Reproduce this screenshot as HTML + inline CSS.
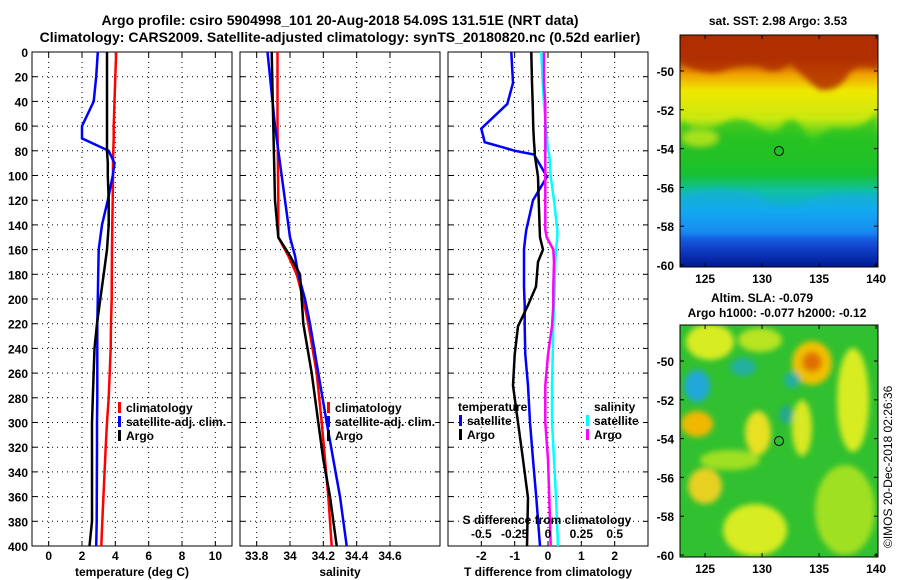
<!DOCTYPE html>
<html><head><meta charset="utf-8"><style>
body{margin:0;background:#fff;}
svg{display:block;font-family:"Liberation Sans",Arial,sans-serif;font-weight:bold;}
</style></head><body>
<svg id="c" width="900" height="580" viewBox="0 0 900 580" xmlns="http://www.w3.org/2000/svg">
<defs>
<linearGradient id="sstg" x1="0" y1="0" x2="0" y2="1">
<stop offset="0" stop-color="#a82800"/><stop offset="0.1" stop-color="#b03400"/>
<stop offset="0.17" stop-color="#f0a000"/><stop offset="0.24" stop-color="#f0e800"/>
<stop offset="0.36" stop-color="#c8e810"/><stop offset="0.45" stop-color="#30c820"/>
<stop offset="0.6" stop-color="#18c030"/><stop offset="0.67" stop-color="#10c0a0"/>
<stop offset="0.76" stop-color="#10a8f0"/><stop offset="0.85" stop-color="#1870f0"/>
<stop offset="0.92" stop-color="#1040c8"/><stop offset="1" stop-color="#001890"/>
</linearGradient>
<filter id="bl" x="-50%" y="-50%" width="200%" height="200%"><feGaussianBlur stdDeviation="3"/></filter>
<filter id="bl2" x="-50%" y="-50%" width="200%" height="200%"><feGaussianBlur stdDeviation="3"/></filter>
<clipPath id="cm1"><rect x="680" y="35" width="198" height="232"/></clipPath>
<clipPath id="cm2"><rect x="680" y="325" width="198" height="232"/></clipPath>
</defs>
<text x="340" y="25" font-size="14" text-anchor="middle">Argo profile: csiro 5904998_101 20-Aug-2018 54.09S 131.51E (NRT data)</text>
<text x="340" y="42" font-size="14" text-anchor="middle">Climatology: CARS2009. Satellite-adjusted climatology: synTS_20180820.nc (0.52d earlier)</text>

<g>
<rect x="680" y="35" width="198" height="232" fill="url(#sstg)"/>
<g clip-path="url(#cm1)" filter="url(#bl2)">
<path d="M680 62 Q700 75 720 72 Q740 62 760 66 Q775 78 790 62 Q805 80 820 90 Q840 92 850 72 Q860 62 878 70 L878 35 L680 35Z" fill="#b03000" opacity="0.85"/>
<path d="M680 120 Q700 135 720 125 Q740 112 760 128 Q775 140 785 122 Q800 112 812 150 Q825 125 840 128 Q860 132 878 112 L878 160 L680 160Z" fill="#20c020" opacity="0.75"/>
<ellipse cx="700" cy="138" rx="18" ry="8" fill="#c8e820" opacity="0.8"/>
<path d="M680 195 Q720 182 760 195 Q780 222 800 205 Q830 188 878 195 L878 235 L680 235Z" fill="#10a8f0" opacity="0.5"/>
</g>
<rect x="680" y="35" width="198" height="232" fill="none" stroke="#000"/>
<circle cx="779" cy="151" r="4.5" fill="none" stroke="#000"/>
</g>
<text x="778" y="25" font-size="12" text-anchor="middle">sat. SST: 2.98 Argo: 3.53</text>

<g>
<rect x="680" y="325" width="198" height="232" fill="#30c030"/>
<g clip-path="url(#cm2)" filter="url(#bl)">
<ellipse cx="710" cy="342" rx="24" ry="18" fill="#d8ec20"/>
<ellipse cx="760" cy="340" rx="22" ry="12" fill="#b8e420"/>
<ellipse cx="812" cy="363" rx="20" ry="22" fill="#f0c000"/>
<ellipse cx="812" cy="362" rx="10" ry="10" fill="#e07000"/>
<ellipse cx="853" cy="400" rx="16" ry="52" fill="#d8ec20"/>
<ellipse cx="697" cy="386" rx="13" ry="16" fill="#20a8d8"/>
<ellipse cx="697" cy="424" rx="16" ry="13" fill="#f0b800"/>
<ellipse cx="758" cy="433" rx="13" ry="22" fill="#e8e020"/>
<ellipse cx="802" cy="428" rx="10" ry="28" fill="#d8e820"/>
<ellipse cx="705" cy="486" rx="17" ry="18" fill="#e8d020"/>
<ellipse cx="755" cy="530" rx="32" ry="26" fill="#d8ec20"/>
<ellipse cx="845" cy="510" rx="30" ry="45" fill="#a0e020"/>
<ellipse cx="743" cy="367" rx="13" ry="9" fill="#20b0a0"/>
<ellipse cx="792" cy="380" rx="8" ry="8" fill="#20b0a0"/>
<ellipse cx="786" cy="415" rx="7" ry="9" fill="#20a890"/>
<ellipse cx="730" cy="460" rx="30" ry="10" fill="#a0e020"/>
</g>
<rect x="680" y="325" width="198" height="232" fill="none" stroke="#000"/>
<circle cx="779" cy="441" r="4.5" fill="none" stroke="#000"/>
</g>
<text x="762" y="302" font-size="12" text-anchor="middle">Altim. SLA: -0.079</text>
<text x="777" y="317" font-size="12" text-anchor="middle">Argo h1000: -0.077 h2000: -0.12</text>
<text transform="translate(892,548) rotate(-90)" font-size="12" font-weight="normal">©IMOS 20-Dec-2018 02:26:36</text>
<g id="mapticks"></g>
<g id="plots"></g>
</svg>
<script>
// ---- data (depth in dbar) ----
const tDepth = [0,20,40,60,70,80,90,100,120,140,160,180,200,220,240,280,300,320,380,400];
const tClim  = [4.05,4.0,3.95,3.9,3.9,3.88,3.86,3.86,3.84,3.82,3.8,3.79,3.78,3.74,3.72,3.6,3.5,3.42,3.22,3.16];
const tSat   = [2.95,2.85,2.7,2.0,2.0,3.6,3.95,3.85,3.55,3.2,3.0,2.97,2.95,2.92,2.92,2.92,2.9,2.9,2.88,2.85];
const tArgo  = [3.5,3.5,3.5,3.5,3.5,3.5,3.55,3.55,3.6,3.6,3.5,3.3,3.1,2.9,2.75,2.65,2.6,2.6,2.6,2.45];
const sDepth = [0,60,120,150,165,180,200,220,260,300,330,360,400];
const sClim  = [33.925,33.925,33.93,33.93,33.99,34.04,34.08,34.11,34.16,34.19,34.21,34.23,34.25];
const sSat   = [33.865,33.91,33.97,34.0,34.03,34.05,34.09,34.12,34.17,34.22,34.26,34.3,34.34];
const sArgo  = [33.89,33.9,33.91,33.93,34.0,34.06,34.07,34.08,34.13,34.17,34.2,34.24,34.28];
const dDepth = [0,25,42,62,73,80,83,101,120,144,150,160,170,190,205,222,245,270,300,330,361,400];
const dTSat  = [-1.1,-1.05,-1.22,-2.0,-1.9,-0.99,-0.42,-0.03,-0.45,-0.65,-0.68,-0.72,-0.72,-0.72,-0.7,-0.7,-0.68,-0.6,-0.54,-0.45,-0.35,-0.24];
const dTArgo = [-0.5,-0.48,-0.46,-0.44,-0.42,-0.4,-0.4,-0.3,-0.28,-0.25,-0.24,-0.15,-0.3,-0.36,-0.6,-0.9,-1.0,-1.05,-0.9,-0.75,-0.6,-0.63];
const dSArgo = [-0.03,-0.03,-0.02,-0.02,-0.02,-0.02,-0.02,-0.02,-0.02,-0.02,-0.01,0.04,0.045,0.04,0.04,0.03,0.0,-0.02,-0.02,0.0,0.01,0.02];
const dSSat  = [-0.05,-0.04,-0.03,-0.015,-0.005,0.0,0.01,0.02,0.045,0.07,0.07,0.06,0.055,0.05,0.045,0.04,0.035,0.03,0.03,0.045,0.06,0.075];
const depthTicks = [0,20,40,60,80,100,120,140,160,180,200,220,240,260,280,300,320,340,360,380,400];
const tTicks = [0,2,4,6,8,10];
const sTicks = [33.8,34,34.2,34.4,34.6];
const dTTicks = [-2,-1,0,1,2];
const dSTicks = [-0.5,-0.25,0,0.25,0.5];
const dSTickLabels = ["-0.5","-0.25","0","0.25","0.5"];
const lonTicks = [125,130,135,140];
const latTicks = [-50,-52,-54,-56,-58,-60];

const NS="http://www.w3.org/2000/svg";
const root=document.getElementById('plots');
function mk(tag,attrs,parent){const e=document.createElementNS(NS,tag);for(const k in attrs)e.setAttribute(k,attrs[k]);(parent||root).appendChild(e);return e;}
const Y0=52,Y1=546;
const yD=d=>Y0+(d/400)*(Y1-Y0);
function xs(x0,vmin,vmax){return v=>x0+(v-vmin)/(vmax-vmin)*200;}

function panel(name,x0,xf,ticks,labels,showY){
  const g=mk('g',{});
  
  
  mk('rect',{x:x0,y:Y0,width:200,height:Y1-Y0,fill:'#fff'},g);
  ticks.forEach((t,i)=>{const x=xf(t);
    mk('line',{x1:x,y1:Y0,x2:x,y2:Y1,stroke:'#000','stroke-dasharray':'1 4','stroke-width':1},g);
    mk('line',{x1:x,y1:Y0,x2:x,y2:Y0+5,stroke:'#000'},g);
    mk('line',{x1:x,y1:Y1,x2:x,y2:Y1-5,stroke:'#000'},g);
    if(labels){const tx=mk('text',{x:x,y:560,'font-size':12,'text-anchor':'middle'},g);tx.textContent=labels[i];
      
      }
  });
  depthTicks.forEach(d=>{const y=yD(d);
    mk('line',{x1:x0,y1:y,x2:x0+200,y2:y,stroke:'#000','stroke-dasharray':'1 4'},g);
    mk('line',{x1:x0,y1:y,x2:x0+5,y2:y,stroke:'#000'},g);
    mk('line',{x1:x0+200,y1:y,x2:x0+195,y2:y,stroke:'#000'},g);
    if(showY){const tx=mk('text',{x:x0-4,y:y+5,'font-size':12,'text-anchor':'end'},g);tx.textContent=d;
      
      }
  });
  mk('rect',{x:x0,y:Y0,width:200,height:Y1-Y0,fill:'none',stroke:'#000'},g);
  return g;
}
function line(g,name,xf,depths,vals,color){
  const p=mk('polyline',{points:depths.map((d,i)=>xf(vals[i]).toFixed(1)+','+yD(d).toFixed(1)).join(' '),fill:'none',stroke:color,'stroke-width':2.5},g);
  
  
}
function txt(g,x,y,s,name,size,anchor){const t=mk('text',{x:x,y:y,'font-size':size||12,'text-anchor':anchor||'start'},g);t.textContent=s;
  
  return t;}
function leg(g,x,y,color,label,name){mk('rect',{x:x,y:y-10,width:3,height:11,fill:color},g);
  txt(g,x+8,y,label,name);}

// Panel 1
const xT=xs(32,-1,11);
const g1=panel('temperature-panel',32,xT,tTicks,tTicks.map(String),true);
line(g1,'temp-climatology-line',xT,tDepth,tClim,'#f00');
line(g1,'temp-satellite-line',xT,tDepth,tSat,'#00f');
line(g1,'temp-argo-line',xT,tDepth,tArgo,'#000');
leg(g1,118,412,'#f00','climatology','legend-climatology');
leg(g1,118,426,'#00f','satellite-adj. clim.','legend-satellite');
leg(g1,118,440,'#000','Argo','legend-argo');
txt(g1,132,576,'temperature (deg C)','x-axis-title-temperature',12,'middle');

// Panel 2
const xS=xs(240,33.7,34.9);
const g2=panel('salinity-panel',240,xS,sTicks,sTicks.map(String),false);
line(g2,'sal-climatology-line',xS,sDepth,sClim,'#f00');
line(g2,'sal-satellite-line',xS,sDepth,sSat,'#00f');
line(g2,'sal-argo-line',xS,sDepth,sArgo,'#000');
leg(g2,327,412,'#f00','climatology','legend-climatology-2');
leg(g2,327,426,'#00f','satellite-adj. clim.','legend-satellite-2');
leg(g2,327,440,'#000','Argo','legend-argo-2');
txt(g2,340,576,'salinity','x-axis-title-salinity',12,'middle');

// Panel 3
const xDT=xs(448,-3,3), xDS=xs(448,-0.75,0.75);
const g3=panel('difference-panel',448,xDT,dTTicks,dTTicks.map(String),false);
line(g3,'dt-satellite-line',xDT,dDepth,dTSat,'#00f');
line(g3,'dt-argo-line',xDT,dDepth,dTArgo,'#000');
line(g3,'ds-satellite-line',xDS,dDepth,dSSat,'#0ff');
line(g3,'ds-argo-line',xDS,dDepth,dSArgo,'#f0f');
txt(g3,458,411,'temperature','legend-title-temperature');
leg(g3,459,425,'#00f','satellite','legend-t-satellite');
leg(g3,459,439,'#000','Argo','legend-t-argo');
txt(g3,594,411,'salinity','legend-title-salinity');
leg(g3,586,425,'#0ff','satellite','legend-s-satellite');
leg(g3,586,439,'#f0f','Argo','legend-s-argo');
txt(g3,547,524,'S difference from climatology','s-axis-title',12,'middle');
dSTicks.forEach((t,i)=>{txt(g3,xDS(t),538,dSTickLabels[i],'s-tick-label',12,'middle');});
txt(g3,548,576,'T difference from climatology','x-axis-title-tdiff',12,'middle');

// map ticks
const mt=document.getElementById('mapticks');
const lonX=l=>680+(l-122.8)*11.4;
[[35,267],[325,557]].forEach(([top,bot])=>{
  const latY=l=>top+36+(-50-l)*19.4;
  lonTicks.forEach(l=>{const x=lonX(l);
    mk('line',{x1:x,y1:top,x2:x,y2:top+4,stroke:'#000'},mt);
    mk('line',{x1:x,y1:bot,x2:x,y2:bot-4,stroke:'#000'},mt);
    txt(mt,x,bot+16,String(l),'lon-tick-label',12,'middle');});
  latTicks.forEach(l=>{const y=latY(l);
    mk('line',{x1:680,y1:y,x2:684,y2:y,stroke:'#000'},mt);
    mk('line',{x1:878,y1:y,x2:874,y2:y,stroke:'#000'},mt);
    txt(mt,674,y+5,String(l),'lat-tick-label',12,'end');});
});
</script>
</body></html>
